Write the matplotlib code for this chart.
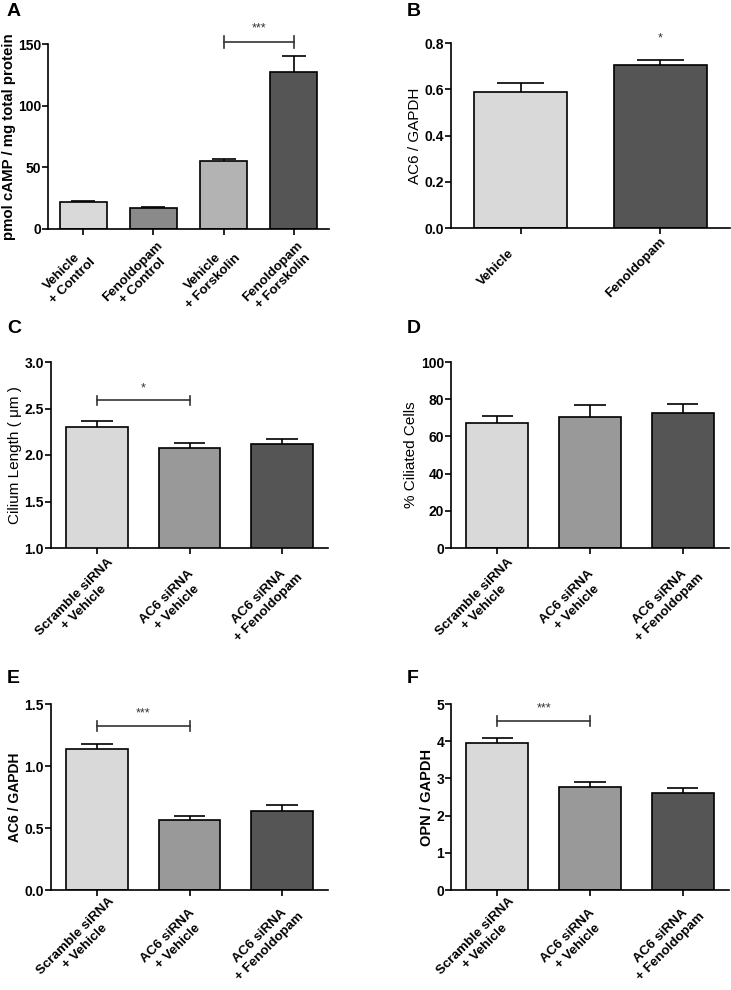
import numpy as np
import matplotlib
matplotlib.use("Agg")
import matplotlib.pyplot as plt

plt.rcParams['font.family'] = ['Liberation Sans', 'DejaVu Sans']

# ---- data ----
a_labels = ["Vehicle\n+ Control", "Fenoldopam\n+ Control", "Vehicle\n+ Forskolin", "Fenoldopam\n+ Forskolin"]
a_means = [21.5, 17.0, 55.0, 127.0]
a_errs = [1.0, 0.8, 2.0, 13.0]

b_labels = ["Vehicle", "Fenoldopam"]
b_means = [0.588, 0.703]
b_errs = [0.038, 0.025]

sirna_labels = ["Scramble siRNA\n+ Vehicle", "AC6 siRNA\n+ Vehicle", "AC6 siRNA\n+ Fenoldopam"]

c_means = [2.297, 2.07, 2.115]
c_errs = [0.068, 0.058, 0.057]

d_means = [67.0, 70.3, 72.6]
d_errs = [4.0, 6.6, 4.8]

e_means = [1.139, 0.563, 0.641]
e_errs = [0.038, 0.032, 0.046]

f_means = [3.94, 2.765, 2.61]
f_errs = [0.135, 0.125, 0.12]

LIGHT = "#d9d9d9"
MID = "#999999"
DARK = "#555555"
a_colors = [LIGHT, "#8a8a8a", "#b3b3b3", DARK]
b_colors = [LIGHT, DARK]
sirna_colors = [LIGHT, MID, DARK]

W, H = 731, 990
fig = plt.figure(figsize=(W / 100, H / 100), dpi=100)
PX = 0.72  # points per pixel at dpi 100


def add_axes(left, right, top, bottom):
    return fig.add_axes([left / W, 1 - bottom / H, (right - left) / W, (bottom - top) / H])


def bar_panel(ax, labels, means, errs, colors, ylim, yticks, ylabel, ylabel_bold=False,
              ylabel_size=11, ticklabels=None, lab_off=(-27, 45)):
    x = np.arange(len(means))
    ax.bar(x, means, width=0.67, color=colors, edgecolor="black", linewidth=1.2, zorder=2)
    tops = np.array(means) + np.array(errs)
    ax.vlines(x, means, tops, color="black", linewidth=1.2, zorder=1)
    ax.hlines(tops, x - 0.17, x + 0.17, color="black", linewidth=1.2, zorder=1)
    ax.set_xlim(-0.5, len(means) - 0.5)
    ax.set_ylim(*ylim)
    ax.set_yticks(yticks)
    if ticklabels is not None:
        ax.set_yticklabels(ticklabels)
    ax.set_xticks(x)
    ax.set_xticklabels([])
    # rotated two-line category labels, centred along the rotated baseline
    for xi, lab in zip(x, labels):
        ax.annotate(lab, xy=(xi, 0), xycoords=ax.get_xaxis_transform(),
                    xytext=(lab_off[0] * PX, -lab_off[1] * PX), textcoords="offset points",
                    rotation=45, rotation_mode="anchor", ha="center", va="top",
                    multialignment="center", linespacing=1.25,
                    fontsize=9.6, fontweight="bold", annotation_clip=False)
    for t in ax.get_yticklabels():
        t.set_fontweight("bold")
        t.set_fontsize(10)
    ax.set_ylabel(ylabel, fontsize=ylabel_size, fontweight="bold" if ylabel_bold else "normal",
                  labelpad=2)
    for s in ["top", "right"]:
        ax.spines[s].set_visible(False)
    for s in ["left", "bottom"]:
        ax.spines[s].set_linewidth(1.2)
    ax.tick_params(axis="both", direction="out", length=4, width=1.2, pad=1)


def bracket(ax, x0, x1, y, tick, label, ty):
    ax.plot([x0, x1], [y, y], color="#333333", linewidth=1.2, clip_on=False)
    ax.plot([x0, x0], [y - tick, y + tick], color="#333333", linewidth=1.2, clip_on=False)
    ax.plot([x1, x1], [y - tick, y + tick], color="#333333", linewidth=1.2, clip_on=False)
    ax.text((x0 + x1) / 2, ty, label, ha="center", va="center", fontsize=9, color="#333333", clip_on=False)


axA = add_axes(48, 329, 44, 229)
bar_panel(axA, a_labels, a_means, a_errs, a_colors, (0, 150), [0, 50, 100, 150],
          "pmol cAMP / mg total protein", ylabel_bold=True, ylabel_size=10.8, lab_off=(-25, 38))
axA.yaxis.labelpad = 1
bracket(axA, 2, 3, 151.5, 5, "***", 163)

axB = add_axes(451, 730, 43, 228)
bar_panel(axB, b_labels, b_means, b_errs, b_colors, (0, 0.8), [0, 0.2, 0.4, 0.6, 0.8],
          "AC6 / GAPDH", ticklabels=["0.0", "0.2", "0.4", "0.6", "0.8"], lab_off=(-29, 35))
axB.text(1, 0.82, "*", ha="center", va="center", fontsize=9, color="#333333", clip_on=False)

axC = add_axes(51, 328, 362, 548)
bar_panel(axC, sirna_labels, c_means, c_errs, sirna_colors, (1.0, 3.0), [1.0, 1.5, 2.0, 2.5, 3.0],
          "Cilium Length ( μm )", ticklabels=["1.0", "1.5", "2.0", "2.5", "3.0"])
bracket(axC, 0, 1, 2.588, 0.045, "*", 2.72)

axD = add_axes(451, 729, 362, 548)
bar_panel(axD, sirna_labels, d_means, d_errs, sirna_colors, (0, 100), [0, 20, 40, 60, 80, 100],
          "% Ciliated Cells")

axE = add_axes(51, 328, 704, 890)
bar_panel(axE, sirna_labels, e_means, e_errs, sirna_colors, (0, 1.5), [0, 0.5, 1.0, 1.5],
          "AC6 / GAPDH", ylabel_bold=True, ylabel_size=10, ticklabels=["0.0", "0.5", "1.0", "1.5"],
          lab_off=(-26, 42))
bracket(axE, 0, 1, 1.32, 0.04, "***", 1.42)

axF = add_axes(451, 729, 704, 890)
bar_panel(axF, sirna_labels, f_means, f_errs, sirna_colors, (0, 5), [0, 1, 2, 3, 4, 5],
          "OPN / GAPDH", ylabel_bold=True, ylabel_size=10.5, lab_off=(-26, 42))
bracket(axF, 0, 1, 4.55, 0.13, "***", 4.87)

for letter, px, py in [("A", 7, 3), ("B", 407, 3), ("C", 7, 320), ("D", 407, 320),
                       ("E", 7, 670), ("F", 407, 670)]:
    fig.text(px / W, 1 - py / H, letter, ha="left", va="top", fontsize=14, fontweight="bold")

fig.savefig("out.png", dpi=100)
